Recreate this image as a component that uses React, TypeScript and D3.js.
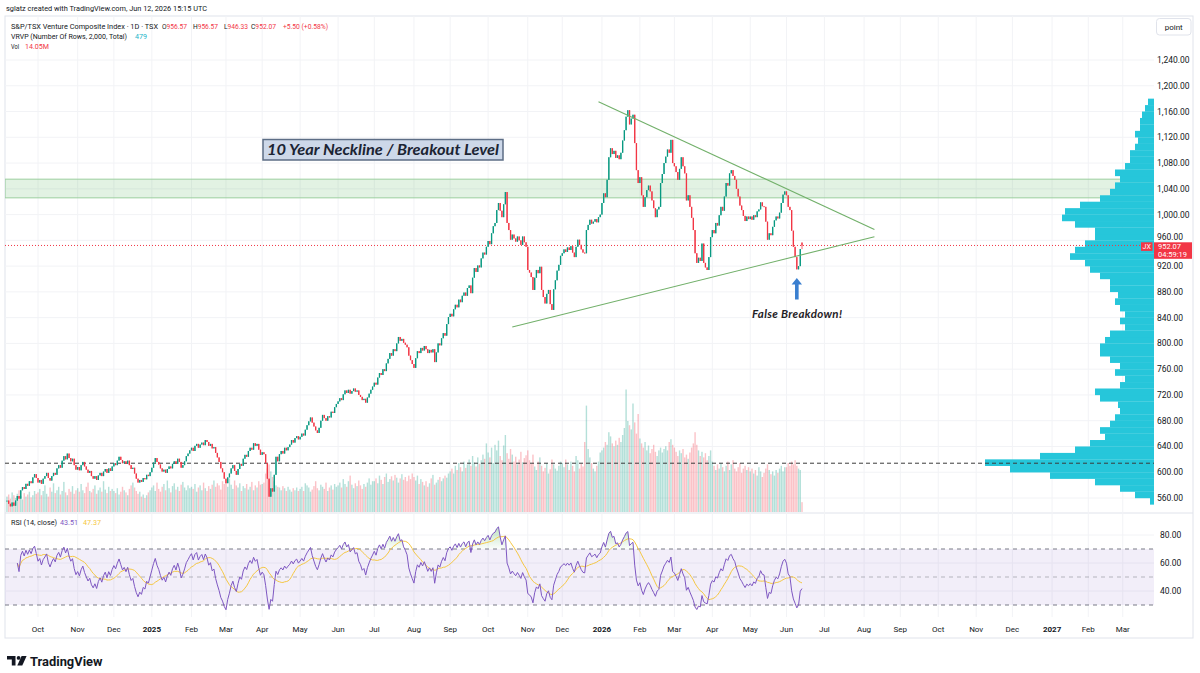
import React from 'react'
import * as d3 from 'd3'

// ---------- data (daily bars, Sep 5 2024 -> Jun 12 2026) ----------
const closeSep24 = [556, 551, 547, 553, 548, 556, 563, 559, 572, 577, 574, 582, 579, 586, 583, 592, 597, 591]
const closeOct24 = [584, 588, 582, 590, 594, 599, 591, 587, 594, 599, 596, 606, 611, 607, 618, 625, 620, 629, 622, 617, 621, 611, 604]
const closeNov24 = [608, 603, 611, 616, 609, 604, 599, 602, 594, 590, 594, 588, 595, 599, 594, 601, 605, 599, 606, 602, 609]
const closeDec24 = [614, 611, 618, 624, 619, 614, 617, 613, 618, 611, 605, 607, 598, 590, 584, 588, 585, 591, 589, 596, 594, 600]
const closeJan25 = [607, 615, 622, 616, 612, 606, 601, 604, 599, 605, 609, 606, 613, 617, 613, 621, 616, 607, 611, 617, 625, 629, 634]
const closeFeb25 = [638, 633, 641, 644, 638, 643, 646, 642, 650, 647, 641, 644, 637, 639, 630, 623, 616, 606, 600, 590]
const closeMar25 = [583, 592, 598, 606, 611, 602, 596, 605, 613, 610, 621, 627, 624, 633, 638, 635, 645, 641, 644, 635, 627]
const closeApr25 = [631, 628, 614, 590, 562, 575, 570, 596, 624, 617, 628, 633, 629, 638, 634, 639, 643, 650, 646, 653, 656, 651]
const closeMay25 = [655, 660, 657, 666, 673, 679, 685, 677, 671, 665, 661, 669, 680, 689, 684, 680, 687, 685, 694, 692, 701, 706]
const closeJun25 = [710, 715, 712, 721, 727, 723, 728, 722, 726, 730, 725, 727, 720, 717, 712, 714, 708, 716, 722, 728, 733]
const closeJul25 = [739, 736, 747, 754, 751, 760, 757, 769, 776, 785, 781, 791, 788, 800, 810, 804, 807, 801, 798, 794, 781, 774, 768]
const closeAug25 = [762, 777, 788, 785, 793, 789, 796, 791, 785, 790, 786, 791, 771, 786, 800, 797, 808, 816, 812, 830, 841]
const closeSep25 = [846, 842, 853, 860, 856, 868, 864, 874, 879, 874, 886, 890, 878, 902, 917, 911, 921, 918, 932, 941, 938, 950]
const closeOct25 = [959, 954, 971, 982, 987, 1007, 1018, 1006, 996, 1016, 1035, 987, 976, 961, 969, 963, 958, 966, 960, 953, 966, 957, 950]
const closeNov25 = [914, 910, 903, 883, 902, 914, 909, 919, 883, 872, 862, 877, 883, 861, 852, 884, 898, 913, 922, 936]
const closeDec25 = [940, 946, 942, 949, 945, 951, 941, 934, 950, 961, 953, 946, 941, 940, 976, 984, 992, 986, 989, 993, 988, 996, 1000]
const closeJan26 = [1018, 1033, 1027, 1054, 1089, 1103, 1094, 1099, 1088, 1092, 1086, 1096, 1115, 1131, 1152, 1162, 1140, 1149, 1155, 1111, 1069, 1049]
const closeFeb26 = [1058, 1030, 1012, 1027, 1038, 1045, 1036, 1022, 1010, 996, 1008, 1012, 1049, 1063, 1080, 1090, 1101, 1096, 1116, 1080]
const closeMar26 = [1075, 1066, 1054, 1071, 1089, 1075, 1064, 1022, 1030, 1012, 995, 976, 940, 925, 933, 928, 955, 925, 918, 914, 934, 965]
const closeApr26 = [976, 971, 987, 983, 999, 1012, 1006, 1028, 1049, 1045, 1064, 1069, 1060, 1054, 1040, 1028, 1014, 1007, 998, 990, 997, 993]
const closeMay26 = [997, 992, 999, 996, 1005, 1008, 1019, 1013, 1012, 989, 961, 971, 968, 981, 991, 997, 994, 1003, 1018, 1031, 1036]
const closeJun26 = [1030, 1012, 1007, 975, 950, 934, 915, 920, 946.57, 952.07]

// volume, millions
const volSep24 = [22, 25, 19, 28, 24, 20, 26, 31, 23, 18, 27, 22, 25, 29, 21, 24, 30, 26]
const volOct24 = [28, 33, 24, 30, 38, 26, 22, 35, 29, 41, 27, 31, 36, 25, 30, 43, 28, 24, 33, 29, 37, 26, 31]
const volNov24 = [34, 29, 40, 31, 27, 36, 42, 30, 28, 33, 38, 26, 31, 35, 29, 44, 32, 27, 36, 30, 33]
const volDec24 = [30, 27, 34, 25, 29, 36, 31, 28, 24, 33, 38, 42, 35, 30, 26, 29, 22, 25, 20, 24, 28, 31]
const volJan25 = [35, 38, 30, 42, 33, 29, 36, 40, 31, 45, 34, 28, 37, 41, 32, 36, 30, 39, 43, 35, 31, 38, 34]
const volFeb25 = [36, 33, 40, 29, 35, 38, 31, 42, 34, 30, 37, 33, 39, 45, 36, 41, 38, 32, 44, 40]
const volMar25 = [42, 36, 48, 39, 33, 45, 38, 35, 41, 30, 37, 34, 40, 32, 36, 43, 31, 38, 35, 44, 39]
const volApr25 = [40, 42, 55, 62, 68, 58, 50, 44, 38, 36, 35, 31, 37, 34, 30, 36, 32, 29, 34, 31, 35, 30]
const volMay25 = [33, 36, 30, 41, 38, 35, 29, 32, 37, 44, 34, 31, 39, 36, 33, 42, 30, 35, 38, 32, 40, 36]
const volJun25 = [38, 42, 35, 47, 40, 36, 44, 52, 39, 34, 41, 37, 45, 38, 33, 40, 36, 42, 48, 39, 44]
const volJul25 = [44, 48, 41, 52, 46, 40, 50, 55, 43, 47, 51, 45, 53, 49, 42, 48, 54, 46, 50, 44, 52, 47, 55]
const volAug25 = [50, 45, 52, 40, 47, 43, 38, 44, 36, 41, 48, 53, 39, 42, 46, 50, 44, 48, 52, 49, 55]
const volSep25 = [58, 62, 55, 66, 60, 70, 64, 58, 72, 63, 68, 75, 66, 80, 71, 65, 78, 69, 74, 82, 76, 98]
const volOct25 = [85, 78, 92, 70, 96, 88, 102, 80, 74, 95, 110, 84, 76, 90, 82, 72, 79, 68, 75, 86, 71, 77, 81]
const volNov25 = [88, 74, 69, 82, 65, 60, 72, 78, 66, 58, 63, 70, 55, 61, 75, 68, 62, 59, 66, 72]
const volDec25 = [70, 64, 75, 68, 60, 72, 66, 58, 80, 74, 62, 69, 65, 100, 152, 90, 78, 70, 62, 58, 66, 72, 85]
const volJan26 = [88, 92, 100, 96, 114, 108, 98, 94, 102, 96, 106, 100, 110, 120, 175, 130, 124, 118, 155, 128, 112, 140]
const volFeb26 = [105, 98, 92, 100, 88, 95, 84, 90, 96, 86, 80, 88, 92, 85, 90, 94, 88, 100, 104, 96]
const volMar26 = [92, 86, 80, 88, 84, 90, 78, 82, 76, 85, 92, 98, 114, 96, 88, 80, 86, 78, 84, 74, 80, 88]
const volApr26 = [72, 66, 60, 68, 62, 70, 64, 58, 66, 72, 60, 68, 74, 62, 58, 64, 70, 56, 62, 66, 60, 64]
const volMay26 = [58, 62, 55, 60, 52, 64, 58, 50, 56, 62, 68, 60, 54, 58, 52, 60, 56, 62, 66, 58, 64]
const volJun26 = [64, 70, 66, 72, 68, 74, 66, 62, 60, 14.05]

const closes = [
  ...closeSep24, ...closeOct24, ...closeNov24, ...closeDec24,
  ...closeJan25, ...closeFeb25, ...closeMar25, ...closeApr25, ...closeMay25, ...closeJun25,
  ...closeJul25, ...closeAug25, ...closeSep25, ...closeOct25, ...closeNov25, ...closeDec25,
  ...closeJan26, ...closeFeb26, ...closeMar26, ...closeApr26, ...closeMay26, ...closeJun26,
]
const volumes = [
  ...volSep24, ...volOct24, ...volNov24, ...volDec24,
  ...volJan25, ...volFeb25, ...volMar25, ...volApr25, ...volMay25, ...volJun25,
  ...volJul25, ...volAug25, ...volSep25, ...volOct25, ...volNov25, ...volDec25,
  ...volJan26, ...volFeb26, ...volMar26, ...volApr26, ...volMay26, ...volJun26,
]

// last (live) bar from the legend
const lastBar = { open: 956.57, high: 956.57, low: 946.33, close: 952.07 }

// visible-range volume profile, 10-point rows starting at 550 (relative volume)
const profileStart = 550
const profileStep = 10
const profileVolumes = [
  4, 19, 34, 59, 104, 144, 169, 114, 79, 64,
  49, 54, 44, 39, 34, 36, 54, 59, 34, 29,
  39, 34, 44, 54, 54, 49, 44, 29, 34, 29,
  34, 39, 36, 44, 44, 54, 64, 69, 84, 79,
  69, 59, 59, 79, 92, 89, 74, 54, 44, 39,
  34, 39, 29, 24, 24, 19, 16, 19, 14, 14,
  12, 9, 6,
]

const priceTicks = [560, 600, 640, 680, 720, 760, 800, 840, 880, 920, 960, 1000, 1040, 1080, 1120, 1160, 1200, 1240]
const rsiTicks = [80, 60, 40]

// drawings
const necklineZone = [1026, 1055]
const supportLevel = 614
const upperTrend = [{ date: new Date(2025, 11, 30), price: 1175 }, { date: new Date(2026, 7, 11), price: 977 }]
const lowerTrend = [{ date: new Date(2025, 9, 21), price: 825.5 }, { date: new Date(2026, 7, 11), price: 965.7 }]

// ---------- layout ----------
const W = 1200
const H = 673
const PLOT_L = 5
const PLOT_R = 1154
const FRAME_R = 1193
const PANE_TOP = 16
const PANE_SPLIT = 513
const RSI_BOTTOM = 617
const FRAME_BOTTOM = 638
const FONT = 'Roboto, "DejaVu Sans", sans-serif'
const TEXT = '#131722'
const UP = '#089981'
const DOWN = '#f23645'
const GRID = '#f2f3f6'
const RSI_FROM = 6

// weekday slots (TradingView spaces bars evenly, future included)
const firstBarDate = new Date(2024, 8, 5)
const slots = d3.timeDay.range(firstBarDate, new Date(2027, 4, 1)).filter(d => d.getDay() !== 0 && d.getDay() !== 6)
const slotIndex = (d: Date) => slots.findIndex(s => s >= d)

function rsiSeries(values: number[], len: number) {
  const out: { i: number; v: number }[] = []
  let ag = 0
  let al = 0
  for (let i = 1; i < values.length; i++) {
    const ch = values[i] - values[i - 1]
    const n = Math.min(i, len)
    ag += (Math.max(ch, 0) - ag) / n
    al += (Math.max(-ch, 0) - al) / n
    out.push({ i, v: al === 0 ? 100 : 100 - 100 / (1 + ag / al) })
  }
  return out
}

export default function App() {
  const x = d3.scaleLinear()
    .domain([slotIndex(new Date(2024, 9, 1)), slotIndex(new Date(2026, 5, 12))])
    .range([38, 802])
  const y = d3.scaleLinear().domain([560, 1240]).range([498, 60])
  const yVol = d3.scaleLinear().domain([0, 200]).range([512, 372])
  const yRsi = d3.scaleLinear().domain([40, 80]).range([591, 535])
  const profW = d3.scaleLinear().domain([0, d3.max(profileVolumes) as number]).range([0, 169])

  const bars = closes.map((c, i) => {
    const last = i === closes.length - 1
    const open = last ? lastBar.open : i === 0 ? c : closes[i - 1]
    return {
      i,
      open,
      close: c,
      high: last ? lastBar.high : Math.max(open, c),
      low: last ? lastBar.low : Math.min(open, c),
      vol: volumes[i],
    }
  })

  const rsi = rsiSeries(closes, 14).filter(d => d.i >= RSI_FROM)
  const rsiMa = rsi.map((d, k) => {
    const win = rsi.slice(Math.max(0, k - 13), k + 1)
    return { i: d.i, v: d3.mean(win, w => w.v) as number }
  })

  const rsiLine = d3.line<{ i: number; v: number }>().x(d => x(d.i)).y(d => yRsi(d.v))
  const obArea = d3.area<{ i: number; v: number }>().x(d => x(d.i)).y0(yRsi(70)).y1(d => yRsi(Math.max(70, d.v)))
  const osArea = d3.area<{ i: number; v: number }>().x(d => x(d.i)).y0(yRsi(30)).y1(d => yRsi(Math.min(30, d.v)))

  const months = d3.timeMonth.range(new Date(2024, 9, 1), new Date(2027, 3, 1))
  const monthTicks = months.map(m => ({
    xPos: x(slotIndex(m)),
    label: m.getMonth() === 0 ? String(m.getFullYear()) : d3.timeFormat('%b')(m),
    year: m.getMonth() === 0,
  }))

  const trend = (pts: { date: Date; price: number }[]) =>
    pts.map(p => [x(slotIndex(p.date)), y(p.price)] as [number, number])
  const up = trend(upperTrend)
  const lo = trend(lowerTrend)

  const lastY = y(lastBar.close)
  const arrowX = x(closes.length - 4)

  return (
    <svg width={W} height={H} style={{ position: 'absolute', left: 0, top: 0 }} fontFamily={FONT}>
      <defs>
        <clipPath id="plot"><rect x={PLOT_L} y={PANE_TOP} width={PLOT_R - PLOT_L} height={PANE_SPLIT - PANE_TOP} /></clipPath>
        <clipPath id="rsiclip"><rect x={PLOT_L} y={PANE_SPLIT} width={PLOT_R - PLOT_L} height={RSI_BOTTOM - PANE_SPLIT} /></clipPath>
        <linearGradient id="ob" x1="0" y1={yRsi(95)} x2="0" y2={yRsi(70)} gradientUnits="userSpaceOnUse">
          <stop offset="0" stopColor="#4caf50" stopOpacity={0.55} />
          <stop offset="1" stopColor="#4caf50" stopOpacity={0.02} />
        </linearGradient>
        <linearGradient id="os" x1="0" y1={yRsi(30)} x2="0" y2={yRsi(10)} gradientUnits="userSpaceOnUse">
          <stop offset="0" stopColor={DOWN} stopOpacity={0.02} />
          <stop offset="1" stopColor={DOWN} stopOpacity={0.55} />
        </linearGradient>
      </defs>
      <rect width={W} height={H} fill="#ffffff" />

      {/* top credit */}
      <text x={6} y={11} fontSize={8} fill={TEXT} textLength={201} lengthAdjust="spacingAndGlyphs">
        sglatz created with TradingView.com, Jun 12, 2026 15:15 UTC
      </text>

      {/* frame */}
      <rect x={PLOT_L} y={PANE_TOP} width={FRAME_R - PLOT_L} height={FRAME_BOTTOM - PANE_TOP} fill="none" stroke="#e0e3eb" />
      <line x1={PLOT_L} x2={FRAME_R} y1={PANE_SPLIT} y2={PANE_SPLIT} stroke="#e0e3eb" />

      {/* grid */}
      <g stroke={GRID} strokeWidth={1}>
        {monthTicks.filter(t => t.xPos > PLOT_L && t.xPos < PLOT_R).map(t => (
          <line key={t.label + t.xPos} x1={t.xPos} x2={t.xPos} y1={PANE_TOP} y2={RSI_BOTTOM} />
        ))}
        {priceTicks.map(p => (
          <line key={p} x1={PLOT_L} x2={PLOT_R} y1={y(p)} y2={y(p)} />
        ))}
        {rsiTicks.map(r => (
          <line key={r} x1={PLOT_L} x2={PLOT_R} y1={yRsi(r)} y2={yRsi(r)} />
        ))}
      </g>

      <g clipPath="url(#plot)">
        {/* neckline zone */}
        <rect x={PLOT_L} y={y(necklineZone[1])} width={PLOT_R - PLOT_L} height={y(necklineZone[0]) - y(necklineZone[1])}
          fill="rgba(76,175,80,0.16)" stroke="#9ccf9f" strokeWidth={1} />

        {/* volume */}
        {bars.map(b => (
          <rect key={'v' + b.i} x={x(b.i) - 0.7} width={1.4} y={yVol(b.vol)} height={yVol(0) - yVol(b.vol)}
            fill={b.close >= b.open ? UP : DOWN} fillOpacity={0.3} />
        ))}

        {/* volume profile */}
        {profileVolumes.map((v, k) => {
          const p0 = profileStart + k * profileStep
          const w = profW(v)
          return (
            <rect key={'p' + k} x={PLOT_R - w} width={w} y={y(p0 + profileStep)} height={y(p0) - y(p0 + profileStep) + 0.2}
              fill="#26c6da" />
          )
        })}

        {/* support line + last price */}
        <line x1={PLOT_L} x2={PLOT_R} y1={y(supportLevel)} y2={y(supportLevel)} stroke="#3a3a3a" strokeDasharray="4 3" />
        <line x1={PLOT_L} x2={PLOT_R} y1={lastY} y2={lastY} stroke={DOWN} strokeDasharray="1 2" />

        {/* candles */}
        {bars.map(b => {
          const col = b.close >= b.open ? UP : DOWN
          const top = y(Math.max(b.open, b.close))
          const bot = y(Math.min(b.open, b.close))
          return (
            <g key={'c' + b.i}>
              <line x1={x(b.i)} x2={x(b.i)} y1={y(b.high)} y2={y(b.low)} stroke={col} strokeWidth={0.8} />
              <rect x={x(b.i) - 0.65} width={1.3} y={top} height={Math.max(1, bot - top)} fill={col} />
            </g>
          )
        })}

        {/* triangle */}
        <line x1={up[0][0]} y1={up[0][1]} x2={up[1][0]} y2={up[1][1]} stroke="#72b06a" strokeWidth={1.1} />
        <line x1={lo[0][0]} y1={lo[0][1]} x2={lo[1][0]} y2={lo[1][1]} stroke="#72b06a" strokeWidth={1.1} />
      </g>

      {/* legend lines */}
      <g fontSize={7.5} fill={TEXT}>
        <text x={11} y={28.5} textLength={147} lengthAdjust="spacingAndGlyphs">S&amp;P/TSX Venture Composite Index · 1D · TSX</text>
        <text x={162} y={28.5} textLength={25} lengthAdjust="spacingAndGlyphs">O<tspan fill={DOWN}>956.57</tspan></text>
        <text x={193} y={28.5} textLength={25} lengthAdjust="spacingAndGlyphs">H<tspan fill={DOWN}>956.57</tspan></text>
        <text x={224} y={28.5} textLength={24} lengthAdjust="spacingAndGlyphs">L<tspan fill={DOWN}>946.33</tspan></text>
        <text x={251} y={28.5} textLength={25} lengthAdjust="spacingAndGlyphs">C<tspan fill={DOWN}>952.07</tspan></text>
        <text x={283} y={28.5} fill={DOWN} textLength={45} lengthAdjust="spacingAndGlyphs">+5.50 (+0.58%)</text>
        <text x={11} y={38.5} textLength={116} lengthAdjust="spacingAndGlyphs">VRVP (Number Of Rows, 2,000, Total)</text>
        <text x={135} y={38.5} fill="#22b5c9" textLength={12} lengthAdjust="spacingAndGlyphs">479</text>
        <text x={11} y={49} textLength={8} lengthAdjust="spacingAndGlyphs">Vol</text>
        <text x={25} y={49} fill={DOWN} textLength={24} lengthAdjust="spacingAndGlyphs">14.05M</text>
      </g>

      {/* annotations */}
      <rect x={263} y={139.5} width={240} height={20.5} fill="#cdd8e9" stroke="#5c6d85" strokeWidth={1.5} />
      <text x={267} y={155} fontFamily='Lato, "Open Sans", sans-serif' fontStyle="italic" fontWeight={700} fontSize={15}
        fill="#1b2433" textLength={232} lengthAdjust="spacingAndGlyphs">10 Year Neckline / Breakout Level</text>
      <text x={752} y={318} fontFamily='Lato, "Open Sans", sans-serif' fontStyle="italic" fontWeight={700} fontSize={11.5}
        fill="#1f2226" textLength={90} lengthAdjust="spacing">False Breakdown!</text>
      <path d={`M${arrowX},278 L${arrowX + 5.2},284.5 L${arrowX + 1.8},284.5 L${arrowX + 1.8},299.5 L${arrowX - 1.8},299.5 L${arrowX - 1.8},284.5 L${arrowX - 5.2},284.5 Z`}
        fill="#3a7fd0" />

      {/* RSI pane */}
      <rect x={PLOT_L} y={yRsi(70)} width={PLOT_R - PLOT_L} height={yRsi(30) - yRsi(70)} fill="rgba(126,87,194,0.1)" />
      <g stroke="#787b86" strokeDasharray="4 4" strokeWidth={1}>
        <line x1={PLOT_L} x2={PLOT_R} y1={yRsi(70)} y2={yRsi(70)} />
        <line x1={PLOT_L} x2={PLOT_R} y1={yRsi(50)} y2={yRsi(50)} strokeOpacity={0.5} />
        <line x1={PLOT_L} x2={PLOT_R} y1={yRsi(30)} y2={yRsi(30)} />
      </g>
      <g clipPath="url(#rsiclip)">
        <path d={obArea(rsi) ?? ''} fill="url(#ob)" />
        <path d={osArea(rsi) ?? ''} fill="url(#os)" />
        <path d={rsiLine(rsiMa) ?? ''} fill="none" stroke="#f5c742" strokeWidth={1} />
        <path d={rsiLine(rsi) ?? ''} fill="none" stroke="#7e57c2" strokeWidth={1} />
      </g>
      <g fontSize={7.5}>
        <text x={11} y={525} fill={TEXT} textLength={46} lengthAdjust="spacingAndGlyphs">RSI (14, close)</text>
        <text x={60} y={525} fill="#7e57c2" textLength={18} lengthAdjust="spacingAndGlyphs">43.51</text>
        <text x={83} y={525} fill="#f5c742" textLength={18} lengthAdjust="spacingAndGlyphs">47.37</text>
      </g>

      {/* price axis (960 sits just above the live price label, as in TradingView) */}
      <g fontSize={8.5} fill={TEXT}>
        {priceTicks.map(p => (
          <text key={p} x={1157} y={p === 960 ? y(p) - 3 : y(p)} dy="0.35em">{d3.format(',.2f')(p)}</text>
        ))}
        {rsiTicks.map(r => (
          <text key={r} x={1160} y={yRsi(r)} dy="0.35em">{d3.format('.2f')(r)}</text>
        ))}
      </g>
      <rect x={1156.5} y={18.5} width={34.5} height={16.5} rx={3} fill="#fff" stroke="#e0e3eb" />
      <text x={1173.7} y={29.5} fontSize={8} fill={TEXT} textAnchor="middle">point</text>

      {/* last price label */}
      <rect x={1141} y={242.3} width={11.5} height={8.6} fill={DOWN} />
      <text x={1146.7} y={249.3} fontSize={7} fill="#fff" textAnchor="middle">JX</text>
      <rect x={1154} y={242.3} width={38} height={16.5} fill={DOWN} />
      <text x={1158} y={249.3} fontSize={7.5} fill="#fff">952.07</text>
      <text x={1158} y={257.3} fontSize={7.5} fill="#fff">04:59:19</text>

      {/* time axis */}
      <g fontSize={8} fill={TEXT} textAnchor="middle">
        {monthTicks.map(t => (
          <text key={t.label + t.xPos} x={t.xPos} y={631.5} fontWeight={t.year ? 700 : 400}>{t.label}</text>
        ))}
      </g>

      {/* TradingView mark */}
      <g fill={TEXT}>
        <path d="M7,656 H15.5 V665.5 H11.8 V659.6 H7 Z" />
        <circle cx={18.6} cy={657.9} r={1.9} />
        <path d="M21.6,656 H26.6 L22.3,665.5 H17.3 Z" />
        <text x={30} y={665.5} fontSize={13.5} fontWeight={700} textLength={72.5} lengthAdjust="spacingAndGlyphs">TradingView</text>
      </g>
    </svg>
  )
}
